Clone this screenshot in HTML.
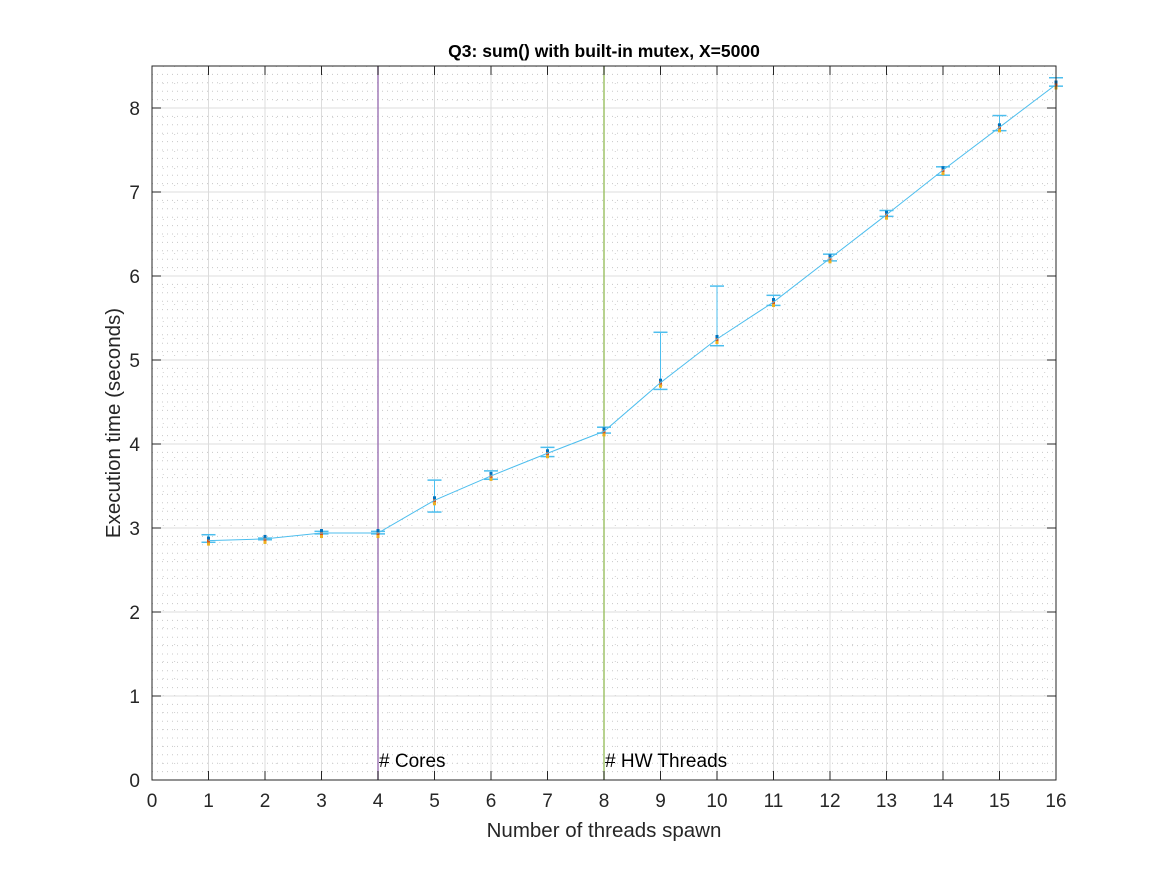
<!DOCTYPE html>
<html><head><meta charset="utf-8"><style>
body{margin:0;background:#fff;width:1167px;height:875px;overflow:hidden}
svg text{font-family:"Liberation Sans",Helvetica,sans-serif;fill:#262626}
</style></head><body>
<svg id="chart" width="1167" height="875" viewBox="0 0 1167 875" xmlns="http://www.w3.org/2000/svg">
<rect width="1167" height="875" fill="#fff"/>
<g id="grid"></g>
<g id="marks"></g>
<g id="axes"></g>
<text x="604" y="57" text-anchor="middle" font-size="17.5" font-weight="bold" style="fill:#000">Q3: sum() with built-in mutex, X=5000</text>
<text x="604" y="837" text-anchor="middle" font-size="20.5">Number of threads spawn</text>
<text transform="translate(120,423) rotate(-90)" text-anchor="middle" font-size="20.5">Execution time (seconds)</text>
</svg>
<script>
const threads=[1,2,3,4,5,6,7,8,9,10,11,12,13,14,15,16];
const meanTime=[2.85,2.87,2.94,2.94,3.33,3.62,3.89,4.15,4.73,5.25,5.69,6.21,6.73,7.26,7.77,8.28];
const upperTime=[2.92,2.88,2.96,2.96,3.57,3.68,3.96,4.20,5.33,5.88,5.77,6.26,6.78,7.30,7.91,8.36];
const lowerTime=[2.83,2.86,2.93,2.93,3.19,3.58,3.85,4.13,4.65,5.17,5.65,6.18,6.71,7.20,7.73,8.26];
const xTicks=[0,1,2,3,4,5,6,7,8,9,10,11,12,13,14,15,16];
const yTicks=[0,1,2,3,4,5,6,7,8];
const markers=[{x:4,label:"# Cores",color:"#a27bb8"},{x:8,label:"# HW Threads",color:"#9fc36a"}];
const L=152,R=1056,T=66,B=780,XMIN=0,XMAX=16,YMIN=0,YMAX=8.5;
const sx=v=>L+(v-XMIN)/(XMAX-XMIN)*(R-L);
const sy=v=>B-(v-YMIN)/(YMAX-YMIN)*(B-T);
const NS="http://www.w3.org/2000/svg";
function mk(p,tag,a){const e=document.createElementNS(NS,tag);for(const k in a)e.setAttribute(k,a[k]);p.appendChild(e);return e;}
const grid=document.getElementById('grid'),marks=document.getElementById('marks'),axes=document.getElementById('axes');
for(let v=0.1;v<YMAX-0.001;v+=0.1){if(Math.abs(v-Math.round(v))<0.01)continue;
 const l=mk(grid,'line',{x1:L,x2:R,y1:sy(v),y2:sy(v),stroke:'#c8c8c8','stroke-width':1,'stroke-dasharray':'1 4'});
 
 }
for(let v=0.2;v<XMAX-0.001;v+=0.2){if(Math.abs(v-Math.round(v))<0.01)continue;
 const l=mk(grid,'line',{x1:sx(v),x2:sx(v),y1:T,y2:B,stroke:'#d0d0d0','stroke-width':1,'stroke-dasharray':'1 16'});
 
 }
yTicks.forEach(v=>{const l=mk(grid,'line',{x1:L,x2:R,y1:sy(v),y2:sy(v),stroke:'#dcdcdc','stroke-width':1});
 
 });
xTicks.forEach(v=>{const l=mk(grid,'line',{x1:sx(v),x2:sx(v),y1:T,y2:B,stroke:'#dcdcdc','stroke-width':1});
 
 });
markers.forEach(m=>{const l=mk(marks,'line',{x1:sx(m.x),x2:sx(m.x),y1:T,y2:B,stroke:m.color,'stroke-width':1.5});
 
 
 const t=mk(marks,'text',{x:sx(m.x)+1,y:767,'font-size':19});t.textContent=m.label;t.style.fill='#000';
 
 });
const c='#4dbeee';
threads.forEach((x,i)=>{const g=mk(marks,'g',{});
 
 
 mk(g,'line',{x1:sx(x),x2:sx(x),y1:sy(upperTime[i]),y2:sy(lowerTime[i]),stroke:c,'stroke-width':1});
 mk(g,'line',{x1:sx(x)-7,x2:sx(x)+7,y1:sy(upperTime[i]),y2:sy(upperTime[i]),stroke:c,'stroke-width':1.5});
 mk(g,'line',{x1:sx(x)-7,x2:sx(x)+7,y1:sy(lowerTime[i]),y2:sy(lowerTime[i]),stroke:c,'stroke-width':1.5});
 const y0=sy(meanTime[i]);
 mk(g,'rect',{x:sx(x)-1.5,y:y0-4,width:3,height:3,fill:'#0072bd'});
 mk(g,'rect',{x:sx(x)-1.5,y:y0-1,width:3,height:3,fill:'#d95319'});
 mk(g,'rect',{x:sx(x)-1.5,y:y0+2,width:3,height:3,fill:'#edb120'});});
const pl=mk(marks,'polyline',{points:threads.map((x,i)=>sx(x)+','+sy(meanTime[i])).join(' '),fill:'none',stroke:c,'stroke-width':1});


const box=mk(axes,'rect',{x:L,y:T,width:R-L,height:B-T,fill:'none',stroke:'#262626','stroke-width':1});


xTicks.forEach(v=>{mk(axes,'line',{x1:sx(v),x2:sx(v),y1:B,y2:B-9,stroke:'#262626'});mk(axes,'line',{x1:sx(v),x2:sx(v),y1:T,y2:T+9,stroke:'#262626'});
 const t=mk(axes,'text',{x:sx(v),y:807,'text-anchor':'middle','font-size':19});t.textContent=v;
 
 });
yTicks.forEach(v=>{mk(axes,'line',{x1:L,x2:L+9,y1:sy(v),y2:sy(v),stroke:'#262626'});mk(axes,'line',{x1:R,x2:R-9,y1:sy(v),y2:sy(v),stroke:'#262626'});
 const t=mk(axes,'text',{x:L-12,y:sy(v)+7,'text-anchor':'end','font-size':19});t.textContent=v;
 
 });
</script>
</body></html>
